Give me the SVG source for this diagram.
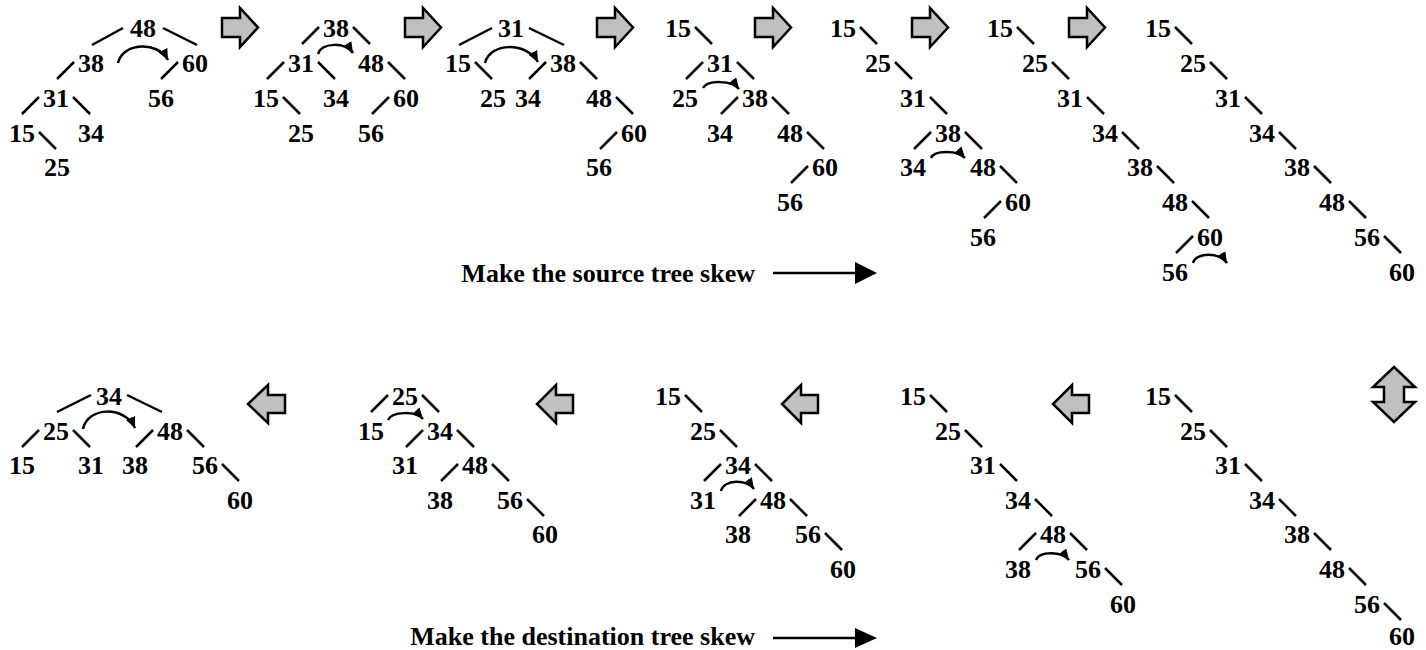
<svg xmlns="http://www.w3.org/2000/svg" width="1426" height="650" viewBox="0 0 1426 650">
<style>
text{font-family:"Liberation Serif","Times New Roman",serif;font-weight:bold;font-size:26px;fill:#000}
.n text{text-anchor:middle}
.e line{stroke:#000;stroke-width:2.5}
.c path{fill:none;stroke:#000;stroke-width:2.5;marker-end:url(#ah)}
.g{fill:#c0c0c0;stroke:#000;stroke-width:2.5;stroke-linejoin:miter}
.lbl{text-anchor:end}
</style>
<defs>
<marker id="ah" markerUnits="userSpaceOnUse" markerWidth="12" markerHeight="11" refX="11" refY="5" orient="auto"><path d="M0,0 L11,5 L0,10 Z" fill="#000"/></marker>
</defs>
<rect width="1426" height="650" fill="#fff"/>

<g id="connectors">
<g class="e" id="edges-t1">
<line x1="123" y1="28" x2="92" y2="45"/><line x1="163" y1="28" x2="197" y2="45"/>
<line x1="74" y1="62" x2="57" y2="79"/><line x1="178" y1="62" x2="161" y2="79"/>
<line x1="39" y1="97" x2="22" y2="114"/><line x1="73" y1="97" x2="90" y2="114"/>
<line x1="39" y1="132" x2="56" y2="149"/>
</g>
<g class="e" id="edges-t2">
<line x1="319" y1="27" x2="302" y2="44"/><line x1="353" y1="27" x2="370" y2="44"/>
<line x1="284" y1="62" x2="267" y2="79"/><line x1="318" y1="62" x2="335" y2="79"/>
<line x1="388" y1="62" x2="405" y2="79"/><line x1="283" y1="97" x2="300" y2="114"/>
<line x1="389" y1="97" x2="372" y2="114"/>
</g>
<g class="e" id="edges-t3">
<line x1="492" y1="28" x2="459" y2="45"/><line x1="529" y1="28" x2="564" y2="45"/>
<line x1="475" y1="62" x2="492" y2="79"/><line x1="546" y1="62" x2="529" y2="79"/>
<line x1="580" y1="62" x2="597" y2="79"/><line x1="616" y1="97" x2="633" y2="114"/>
<line x1="617" y1="132" x2="600" y2="149"/>
</g>
<g class="e" id="edges-t4">
<line x1="695" y1="27" x2="712" y2="44"/><line x1="703" y1="62" x2="686" y2="79"/>
<line x1="737" y1="62" x2="754" y2="79"/><line x1="738" y1="97" x2="721" y2="114"/>
<line x1="772" y1="97" x2="789" y2="114"/><line x1="807" y1="132" x2="824" y2="149"/>
<line x1="808" y1="166" x2="791" y2="183"/>
</g>
<g class="e" id="edges-t5">
<line x1="860" y1="27" x2="877" y2="44"/><line x1="895" y1="62" x2="912" y2="79"/>
<line x1="930" y1="97" x2="947" y2="114"/><line x1="931" y1="132" x2="914" y2="149"/>
<line x1="965" y1="132" x2="982" y2="149"/><line x1="1000" y1="166" x2="1017" y2="183"/>
<line x1="1001" y1="201" x2="984" y2="218"/>
</g>
<g class="e" id="edges-t6">
<line x1="1017" y1="27" x2="1034" y2="44"/><line x1="1052" y1="62" x2="1069" y2="79"/>
<line x1="1087" y1="97" x2="1104" y2="114"/><line x1="1122" y1="132" x2="1139" y2="149"/>
<line x1="1157" y1="166" x2="1174" y2="183"/><line x1="1192" y1="201" x2="1209" y2="218"/>
<line x1="1193" y1="236" x2="1176" y2="253"/>
</g>
<g class="e" id="edges-t7">
<line x1="1175" y1="27" x2="1192" y2="44"/><line x1="1210" y1="62" x2="1227" y2="79"/>
<line x1="1245" y1="97" x2="1262" y2="114"/><line x1="1279" y1="132" x2="1296" y2="149"/>
<line x1="1314" y1="166" x2="1331" y2="183"/><line x1="1349" y1="201" x2="1366" y2="218"/>
<line x1="1384" y1="236" x2="1401" y2="253"/>
</g>
<g class="e" id="edges-bA">
<line x1="91" y1="395" x2="57" y2="412"/><line x1="127" y1="395" x2="162" y2="412"/>
<line x1="39" y1="430" x2="22" y2="447"/><line x1="73" y1="430" x2="90" y2="447"/>
<line x1="153" y1="430" x2="136" y2="447"/><line x1="187" y1="430" x2="204" y2="447"/>
<line x1="222" y1="464" x2="239" y2="481"/>
</g>
<g class="e" id="edges-bB">
<line x1="388" y1="395" x2="371" y2="412"/><line x1="422" y1="395" x2="439" y2="412"/>
<line x1="423" y1="430" x2="406" y2="447"/><line x1="457" y1="430" x2="474" y2="447"/>
<line x1="458" y1="464" x2="441" y2="481"/><line x1="492" y1="464" x2="509" y2="481"/>
<line x1="527" y1="499" x2="544" y2="516"/>
</g>
<g class="e" id="edges-bC">
<line x1="685" y1="395" x2="702" y2="412"/><line x1="720" y1="430" x2="737" y2="447"/>
<line x1="721" y1="464" x2="704" y2="481"/><line x1="755" y1="464" x2="772" y2="481"/>
<line x1="756" y1="499" x2="739" y2="516"/><line x1="790" y1="499" x2="807" y2="516"/>
<line x1="825" y1="533" x2="842" y2="550"/>
</g>
<g class="e" id="edges-bD">
<line x1="930" y1="395" x2="947" y2="412"/><line x1="965" y1="430" x2="982" y2="447"/>
<line x1="1000" y1="464" x2="1017" y2="481"/><line x1="1035" y1="499" x2="1052" y2="516"/>
<line x1="1036" y1="533" x2="1019" y2="550"/><line x1="1070" y1="533" x2="1087" y2="550"/>
<line x1="1105" y1="568" x2="1122" y2="585"/>
</g>
<g class="e" id="edges-bE">
<line x1="1175" y1="395" x2="1192" y2="412"/><line x1="1210" y1="430" x2="1227" y2="447"/>
<line x1="1245" y1="464" x2="1262" y2="481"/><line x1="1279" y1="499" x2="1296" y2="516"/>
<line x1="1314" y1="533" x2="1331" y2="550"/><line x1="1349" y1="568" x2="1366" y2="585"/>
<line x1="1384" y1="603" x2="1401" y2="620"/>
</g>
<g class="c" id="rotations">
<path d="M118,63 C123,42 158,41 168,60"/>
<path d="M318,54 C322,42 346,42 353,53"/>
<path d="M485,63 C490,42 527,42 538,62"/>
<path d="M703,88 C707,80 732,80 739,89"/>
<path d="M931,158 C934,150 958,150 965,158"/>
<path d="M1193,263 C1196,252 1220,252 1227,263"/>
<path d="M83,429 C88,406 125,406 135,428"/>
<path d="M388,420 C392,411 416,411 423,419"/>
<path d="M721,491 C724,479 747,479 754,489"/>
<path d="M1036,560 C1039,551 1062,551 1069,560"/>
</g>
</g>

<g id="flow-arrows">
<path class="g" d="M222,18 H240 V8 L258,27.5 L240,47 V37 H222 Z"/>
<path class="g" d="M405,18 H423 V8 L441,27.5 L423,47 V37 H405 Z"/>
<path class="g" d="M597,18 H615 V8 L633,27.5 L615,47 V37 H597 Z"/>
<path class="g" d="M755,18 H773 V8 L791,27.5 L773,47 V37 H755 Z"/>
<path class="g" d="M912,18 H930 V8 L948,27.5 L930,47 V37 H912 Z"/>
<path class="g" d="M1069,18 H1087 V8 L1105,27.5 L1087,47 V37 H1069 Z"/>
<path class="g" d="M285,395 H268 V385 L248,404 L268,423 V413 H285 Z"/>
<path class="g" d="M573,395 H556 V385 L537,404 L556,423 V413 H573 Z"/>
<path class="g" d="M818,395 H801 V385 L782,404 L801,423 V413 H818 Z"/>
<path class="g" d="M1089,395 H1072 V385 L1053,404 L1072,423 V413 H1089 Z"/>
<path class="g" d="M1394,367 L1415,387 H1404 V402 H1415 L1394,422 L1373,402 H1384 V387 H1373 Z"/>
</g>

<g id="labels">
<text class="lbl" x="755" y="282">Make the source tree skew</text>
<line x1="773" y1="273" x2="858" y2="273" stroke="#000" stroke-width="2.5"/>
<path d="M855,262 L877,273 L855,284 Z" fill="#000"/>
<text class="lbl" x="755" y="645">Make the destination tree skew</text>
<line x1="773" y1="638" x2="858" y2="638" stroke="#000" stroke-width="2.5"/>
<path d="M855,628 L877,638 L855,648 Z" fill="#000"/>
</g>

<g id="tree1" class="n">
<g id="t1-48"><text x="143" y="37">48</text></g>
<g id="t1-38"><text x="91" y="72">38</text></g>
<g id="t1-60"><text x="195" y="72">60</text></g>
<g id="t1-31"><text x="56" y="107">31</text></g>
<g id="t1-56"><text x="161" y="107">56</text></g>
<g id="t1-15"><text x="22" y="142">15</text></g>
<g id="t1-34"><text x="91" y="142">34</text></g>
<g id="t1-25"><text x="57" y="176">25</text></g>
</g>
<g id="tree2" class="n">
<g id="t2-38"><text x="336" y="37">38</text></g>
<g id="t2-31"><text x="301" y="72">31</text></g>
<g id="t2-48"><text x="371" y="72">48</text></g>
<g id="t2-15"><text x="266" y="107">15</text></g>
<g id="t2-34"><text x="336" y="107">34</text></g>
<g id="t2-60"><text x="406" y="107">60</text></g>
<g id="t2-25"><text x="301" y="142">25</text></g>
<g id="t2-56"><text x="371" y="142">56</text></g>
</g>
<g id="tree3" class="n">
<g id="t3-31"><text x="511" y="37">31</text></g>
<g id="t3-15"><text x="458" y="72">15</text></g>
<g id="t3-38"><text x="563" y="72">38</text></g>
<g id="t3-25"><text x="493" y="107">25</text></g>
<g id="t3-34"><text x="528" y="107">34</text></g>
<g id="t3-48"><text x="599" y="107">48</text></g>
<g id="t3-60"><text x="634" y="142">60</text></g>
<g id="t3-56"><text x="599" y="176">56</text></g>
</g>
<g id="tree4" class="n">
<g id="t4-15"><text x="678" y="37">15</text></g>
<g id="t4-31"><text x="720" y="72">31</text></g>
<g id="t4-25"><text x="685" y="107">25</text></g>
<g id="t4-38"><text x="755" y="107">38</text></g>
<g id="t4-34"><text x="720" y="142">34</text></g>
<g id="t4-48"><text x="790" y="142">48</text></g>
<g id="t4-60"><text x="825" y="176">60</text></g>
<g id="t4-56"><text x="790" y="211">56</text></g>
</g>
<g id="tree5" class="n">
<g id="t5-15"><text x="843" y="37">15</text></g>
<g id="t5-25"><text x="878" y="72">25</text></g>
<g id="t5-31"><text x="913" y="107">31</text></g>
<g id="t5-38"><text x="948" y="142">38</text></g>
<g id="t5-34"><text x="913" y="176">34</text></g>
<g id="t5-48"><text x="983" y="176">48</text></g>
<g id="t5-60"><text x="1018" y="211">60</text></g>
<g id="t5-56"><text x="983" y="246">56</text></g>
</g>
<g id="tree6" class="n">
<g id="t6-15"><text x="1000" y="37">15</text></g>
<g id="t6-25"><text x="1035" y="72">25</text></g>
<g id="t6-31"><text x="1070" y="107">31</text></g>
<g id="t6-34"><text x="1105" y="142">34</text></g>
<g id="t6-38"><text x="1140" y="176">38</text></g>
<g id="t6-48"><text x="1175" y="211">48</text></g>
<g id="t6-60"><text x="1210" y="246">60</text></g>
<g id="t6-56"><text x="1175" y="281">56</text></g>
</g>
<g id="tree7" class="n">
<g id="t7-15"><text x="1158" y="37">15</text></g>
<g id="t7-25"><text x="1193" y="72">25</text></g>
<g id="t7-31"><text x="1228" y="107">31</text></g>
<g id="t7-34"><text x="1262" y="142">34</text></g>
<g id="t7-38"><text x="1297" y="176">38</text></g>
<g id="t7-48"><text x="1332" y="211">48</text></g>
<g id="t7-56"><text x="1367" y="246">56</text></g>
<g id="t7-60"><text x="1402" y="281">60</text></g>
</g>

<g id="treeA" class="n">
<g id="bA-34"><text x="109" y="405">34</text></g>
<g id="bA-25"><text x="56" y="440">25</text></g>
<g id="bA-48"><text x="170" y="440">48</text></g>
<g id="bA-15"><text x="22" y="474">15</text></g>
<g id="bA-31"><text x="91" y="474">31</text></g>
<g id="bA-38"><text x="135" y="474">38</text></g>
<g id="bA-56"><text x="205" y="474">56</text></g>
<g id="bA-60"><text x="240" y="509">60</text></g>
</g>
<g id="treeB" class="n">
<g id="bB-25"><text x="405" y="405">25</text></g>
<g id="bB-15"><text x="371" y="440">15</text></g>
<g id="bB-34"><text x="440" y="440">34</text></g>
<g id="bB-31"><text x="405" y="474">31</text></g>
<g id="bB-48"><text x="475" y="474">48</text></g>
<g id="bB-38"><text x="440" y="509">38</text></g>
<g id="bB-56"><text x="510" y="509">56</text></g>
<g id="bB-60"><text x="545" y="543">60</text></g>
</g>
<g id="treeC" class="n">
<g id="bC-15"><text x="668" y="405">15</text></g>
<g id="bC-25"><text x="703" y="440">25</text></g>
<g id="bC-34"><text x="738" y="474">34</text></g>
<g id="bC-31"><text x="703" y="509">31</text></g>
<g id="bC-48"><text x="773" y="509">48</text></g>
<g id="bC-38"><text x="738" y="543">38</text></g>
<g id="bC-56"><text x="808" y="543">56</text></g>
<g id="bC-60"><text x="843" y="578">60</text></g>
</g>
<g id="treeD" class="n">
<g id="bD-15"><text x="913" y="405">15</text></g>
<g id="bD-25"><text x="948" y="440">25</text></g>
<g id="bD-31"><text x="983" y="474">31</text></g>
<g id="bD-34"><text x="1018" y="509">34</text></g>
<g id="bD-48"><text x="1053" y="543">48</text></g>
<g id="bD-38"><text x="1018" y="578">38</text></g>
<g id="bD-56"><text x="1088" y="578">56</text></g>
<g id="bD-60"><text x="1123" y="613">60</text></g>
</g>
<g id="treeE" class="n">
<g id="bE-15"><text x="1158" y="405">15</text></g>
<g id="bE-25"><text x="1193" y="440">25</text></g>
<g id="bE-31"><text x="1228" y="474">31</text></g>
<g id="bE-34"><text x="1262" y="509">34</text></g>
<g id="bE-38"><text x="1297" y="543">38</text></g>
<g id="bE-48"><text x="1332" y="578">48</text></g>
<g id="bE-56"><text x="1367" y="613">56</text></g>
<g id="bE-60"><text x="1402" y="645">60</text></g>
</g>
</svg>
